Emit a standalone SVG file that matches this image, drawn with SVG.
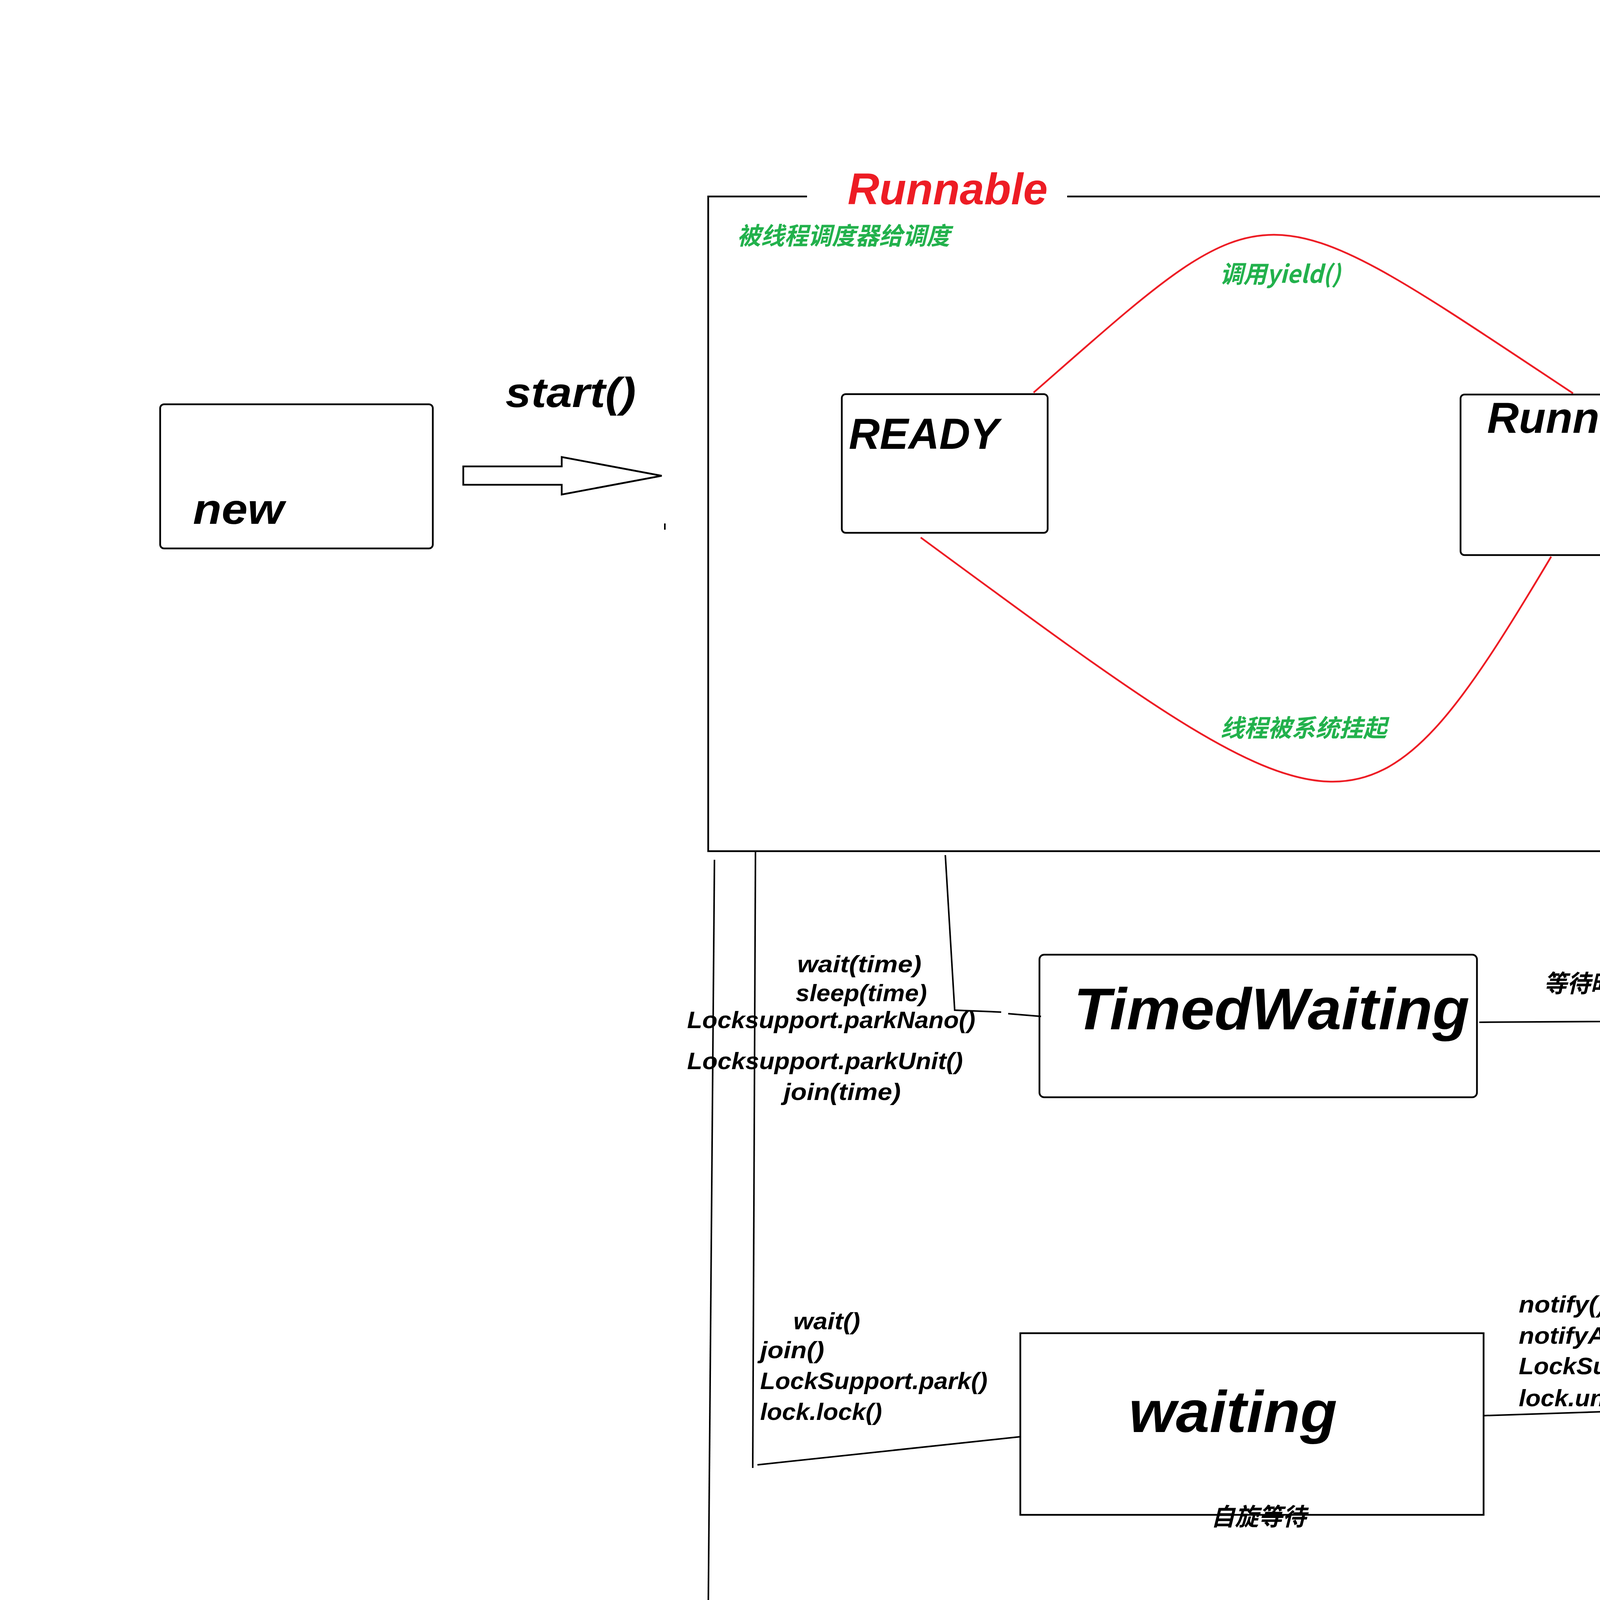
<svg xmlns="http://www.w3.org/2000/svg" width="6520" height="5088" viewBox="0 0 6520 5088">
<style>
.box{fill:none;stroke:#000;stroke-width:4.5}
.ln{fill:none;stroke:#000;stroke-width:4;stroke-linecap:butt}
.red{fill:none;stroke:#ed1c24;stroke-width:4.5}
.arrow{fill:#fff;stroke:#000;stroke-width:4.5;stroke-linejoin:miter}
text{font-family:"Liberation Sans","Noto Sans CJK SC",sans-serif;font-weight:bold;font-style:italic;fill:#000}
.cjk{font-family:"Noto Sans CJK SC","Liberation Sans",sans-serif}
.green{fill:#22b14c}
.lbl{font-size:62px}
.big{font-size:112px}
.huge{font-size:150px}
.wm{font-family:"Open Sans","Liberation Sans",sans-serif;font-weight:normal;font-style:normal;font-size:19px;fill:#999}
</style>
<rect width="6520" height="5088" fill="#fff"/>

<g id="connectors">
  <path class="red" d="M2646,1005 C3263,465 3212,467 4027,1007"/>
  <path class="red" d="M2357,1376 C3445,2176 3495,2225 3971,1425"/>
  <polygon class="arrow" points="1186,1194 1438,1194 1438,1170 1694,1218 1438,1266 1438,1241 1186,1241"/>
  <polygon class="arrow" points="4580,1133 4847,1133 4847,1093 5114,1169 4847,1245 4847,1207 4580,1207"/>
  <line class="ln" x1="1702" y1="1340" x2="1702" y2="1356"/>
  <polyline class="ln" points="2420,2189 2444,2586 2563,2591"/>
  <line class="ln" x1="2581" y1="2595" x2="2665" y2="2602"/>
  <polyline class="ln" points="3787,2617 4110,2615 4121,2183"/>
  <line class="ln" x1="1934" y1="2179" x2="1927" y2="3758"/>
  <line class="ln" x1="1939" y1="3750" x2="2612" y2="3678"/>
  <line class="ln" x1="3799" y1="3624" x2="4311" y2="3607"/>
  <line class="ln" x1="4322" y1="3602" x2="4429" y2="2173"/>
  <line class="ln" x1="1829" y1="2201" x2="1811" y2="4377"/>
  <line class="ln" x1="1800" y1="4387" x2="2637" y2="4420"/>
  <line class="ln" x1="3804" y1="4424" x2="4483" y2="4435"/>
  <line class="ln" x1="4582" y1="2188" x2="4483" y2="4456"/>
</g>

<g id="runnable">
  <path class="box" d="M2066,503 L1813,503 L1813,2179 L4580,2179 L4580,503 L2732,503"/>
  <text x="2170" y="523" font-size="113" style="fill:#ed1c24" textLength="512" lengthAdjust="spacingAndGlyphs">Runnable</text>
  <text class="cjk green lbl" x="1887" y="626" textLength="545" lengthAdjust="spacingAndGlyphs">被线程调度器给调度</text>
  <text class="cjk green lbl" x="3123" y="724" font-size="60" textLength="309" lengthAdjust="spacingAndGlyphs">调用yield()</text>
  <text class="cjk green lbl" x="3124" y="1886" textLength="426" lengthAdjust="spacingAndGlyphs">线程被系统挂起</text>
</g>

<g id="new">
  <rect class="box" x="410" y="1035" width="698" height="369" rx="10"/>
  <text x="494" y="1341" font-size="110" textLength="233" lengthAdjust="spacingAndGlyphs">new</text>
</g>

<g id="start-label">
  <text x="1294" y="1042" font-size="108" textLength="334" lengthAdjust="spacingAndGlyphs">start()</text>
</g>

<g id="ready">
  <rect class="box" x="2155" y="1009" width="527" height="355" rx="10"/>
  <text class="big" x="2173" y="1149" textLength="384" lengthAdjust="spacingAndGlyphs">READY</text>
</g>

<g id="running">
  <rect class="box" x="3739" y="1010" width="527" height="411" rx="10"/>
  <text class="big" x="3807" y="1108" textLength="456" lengthAdjust="spacingAndGlyphs">Running</text>
</g>

<g id="terminated">
  <rect class="box" x="5137" y="976" width="1058" height="428"/>
  <text x="5275" y="1120" font-size="64" textLength="345" lengthAdjust="spacingAndGlyphs">Terminated</text>
</g>

<g id="timedwaiting">
  <rect class="box" x="2661" y="2444" width="1120" height="365" rx="12"/>
  <text class="huge" x="2749" y="2635" textLength="1013" lengthAdjust="spacingAndGlyphs">TimedWaiting</text>
  <text class="lbl" x="2041" y="2489" textLength="318" lengthAdjust="spacingAndGlyphs">wait(time)</text>
  <text class="lbl" x="2037" y="2563" textLength="336" lengthAdjust="spacingAndGlyphs">sleep(time)</text>
  <text class="lbl" x="1759" y="2632" textLength="738" lengthAdjust="spacingAndGlyphs">Locksupport.parkNano()</text>
  <text class="lbl" x="1759" y="2737" textLength="706" lengthAdjust="spacingAndGlyphs">Locksupport.parkUnit()</text>
  <text class="lbl" x="2006" y="2816" textLength="300" lengthAdjust="spacingAndGlyphs">join(time)</text>
  <text class="cjk lbl" x="3952" y="2540" textLength="676" lengthAdjust="spacingAndGlyphs">等待时间结束,可以被调用</text>
</g>

<g id="waiting">
  <rect class="box" x="2612" y="3413" width="1186" height="465"/>
  <text class="huge" x="2890" y="3666" textLength="533" lengthAdjust="spacingAndGlyphs">waiting</text>
  <text class="cjk lbl" x="3100" y="3905" textLength="244" lengthAdjust="spacingAndGlyphs">自旋等待</text>
  <text class="lbl" x="2031" y="3403" textLength="171" lengthAdjust="spacingAndGlyphs">wait()</text>
  <text class="lbl" x="1946" y="3477" textLength="164" lengthAdjust="spacingAndGlyphs">join()</text>
  <text class="lbl" x="1946" y="3556" textLength="582" lengthAdjust="spacingAndGlyphs">LockSupport.park()</text>
  <text class="lbl" x="1946" y="3635" textLength="312" lengthAdjust="spacingAndGlyphs">lock.lock()</text>
  <text class="lbl" x="3888" y="3360" textLength="223" lengthAdjust="spacingAndGlyphs">notify()</text>
  <text class="lbl" x="3888" y="3440" textLength="303" lengthAdjust="spacingAndGlyphs">notifyAll()</text>
  <text class="lbl" x="3888" y="3518" textLength="660" lengthAdjust="spacingAndGlyphs">LockSupport.unpark()</text>
  <text class="lbl" x="3888" y="3600" textLength="389" lengthAdjust="spacingAndGlyphs">lock.unlock()</text>
</g>

<g id="blocked">
  <rect class="box" x="2614" y="4244" width="1181" height="462"/>
  <text x="2762" y="4432" font-size="148" textLength="688" lengthAdjust="spacingAndGlyphs">BLOCKED</text>
  <text class="lbl" x="2021" y="4227" textLength="368" lengthAdjust="spacingAndGlyphs">sychronized</text>
  <text class="cjk lbl" x="3948" y="4344" textLength="181" lengthAdjust="spacingAndGlyphs">获得锁</text>
  <text class="cjk lbl" x="3016" y="4778" textLength="310" lengthAdjust="spacingAndGlyphs">重量级锁等</text>
</g>

<text class="wm" x="6341" y="5075" textLength="164" lengthAdjust="spacingAndGlyphs">CSDN @Gavin_Lim</text>
</svg>
